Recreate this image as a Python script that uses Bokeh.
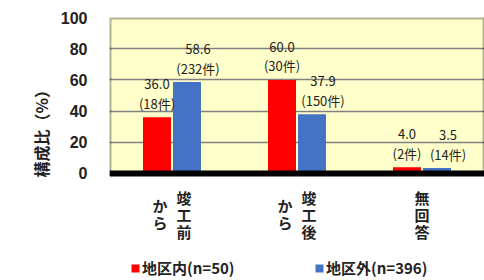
import numpy as np
from bokeh.plotting import figure
from bokeh.models import (ColumnDataSource, Range1d, FixedTicker, LabelSet, Title,
                          Legend, LegendItem, Span, BoxAnnotation)
from bokeh.transform import dodge
from bokeh.core.properties import value
from bokeh.embed import file_html
from bokeh.resources import INLINE

# ---- data ----
categories = ["竣工前から", "竣工後から", "無回答"]
category_columns = [["竣工前", "から"], ["竣工後", "から"], ["無回答"]]  # vertical writing, right to left
series_names = ["地区内(n=50)", "地区外(n=396)"]
inside_pct = [36.0, 60.0, 4.0]
inside_cnt = [18, 30, 2]
outside_pct = [58.6, 37.9, 3.5]
outside_cnt = [232, 150, 14]
y_ticks = [0, 20, 40, 60, 80, 100]
y_label = "構成比（%）"

RED = "#FF0000"
BLUE = "#4472C4"
TXT = "#222222"
JP = "Noto Sans CJK JP"

xs = [i + 0.5 for i in range(len(categories))]
src = ColumnDataSource(dict(
    x=xs,
    inside=inside_pct, outside=outside_pct,
    inside_val=[f"{v:.1f}" for v in inside_pct],
    outside_val=[f"{v:.1f}" for v in outside_pct],
    inside_cnt=[f"({c}件)" for c in inside_cnt],
    outside_cnt=[f"({c}件)" for c in outside_cnt],
))

YMAX = y_ticks[-1]
# frame reaches down to the canvas bottom so that the category labels and legend fit inside it
p = figure(width=484, height=280, x_range=Range1d(0, len(categories)), y_range=Range1d(-68.6, YMAX),
           output_backend="svg", toolbar_location=None, x_axis_location=None,
           min_border_left=109, min_border_right=0, min_border_top=17, min_border_bottom=0,
           background_fill_color="white", border_fill_color="white")
p.outline_line_color = None

# plot box
p.add_layout(BoxAnnotation(left=0, right=len(categories), bottom=0, top=YMAX,
                           fill_color="#FFFFCC", fill_alpha=1, line_color=None, level="image"))

# axes / grid
p.yaxis.ticker = FixedTicker(ticks=y_ticks)
p.yaxis.axis_line_color = None
p.yaxis.major_tick_line_color = None
p.yaxis.minor_tick_line_color = None
p.yaxis.major_tick_out = 0
p.yaxis.major_tick_in = 0
p.yaxis.major_label_standoff = 22
p.yaxis.major_label_text_font = "Liberation Sans"
p.yaxis.major_label_text_font_style = "bold"
p.yaxis.major_label_text_font_size = "16px"
p.yaxis.major_label_text_color = TXT
p.yaxis.axis_label_standoff = 8
p.xgrid.grid_line_color = None
p.ygrid.ticker = FixedTicker(ticks=y_ticks)
p.ygrid.grid_line_color = "#808080"
p.ygrid.grid_line_width = 1.5

OFF = 0.12
BW = 0.224
r1 = p.vbar(x=dodge("x", -OFF), top="inside", width=BW, source=src,
            fill_color=RED, line_color=None)
r2 = p.vbar(x=dodge("x", OFF), top="outside", width=BW, source=src,
            fill_color=BLUE, line_color=None)

# box border on top
p.add_layout(BoxAnnotation(left=0, right=len(categories), bottom=0, top=YMAX,
                           fill_alpha=0, line_color="black", line_width=4, level="annotation"))
p.add_layout(Span(location=0, dimension="width", line_color="black", line_width=6))

# value labels
for col, cnt, dx, xo in (("inside", "inside_cnt", -OFF, 0), ("outside", "outside_cnt", OFF, 11)):
    for field, yo in ((col + "_val", 33), (cnt, 14)):
        p.add_layout(LabelSet(x=dodge("x", dx), y=col, text=field, source=src,
                              x_offset=xo, y_offset=yo, text_align="center",
                              text_baseline="middle", text_font=value(JP),
                              text_font_size="13px", text_color=TXT))

# category labels (vertical Japanese text)
cx, cy, cdx, cdy, cch = [], [], [], [], []
for i, cols in enumerate(category_columns):
    n = len(cols)
    for j, col in enumerate(cols):
        dx = (n - 1) / 2 * 24 - j * 24
        for k, ch in enumerate(col):
            cx.append(xs[i])
            cy.append(0)
            cdx.append(dx)
            cdy.append(-(41 + (k - (len(col) - 1) / 2) * 17))
            cch.append(ch)
csrc = ColumnDataSource(dict(x=cx, y=cy, dx=cdx, dy=cdy, ch=cch))
p.add_layout(LabelSet(x="x", y="y", x_offset="dx", y_offset="dy", text="ch", source=csrc,
                      text_align="center", text_baseline="middle", text_font=value(JP),
                      text_font_style="bold", text_font_size="15px", text_color=TXT))

# y axis title (reading bottom to top)
p.add_layout(Title(text=y_label, align="left", offset=103, standoff=10,
                   text_font=JP, text_font_style="bold", text_font_size="16px",
                   text_color=TXT), "left")

# legends
for r, name, loc in ((r1, series_names[0], (21, 2)), (r2, series_names[1], (205, 2))):
    lg = Legend(items=[LegendItem(label=value(name), renderers=[r])], location=loc,
                orientation="horizontal", border_line_color=None, background_fill_alpha=0,
                padding=0, margin=0, glyph_width=10, glyph_height=10, label_standoff=2,
                label_height=16, label_text_font=JP, label_text_font_style="bold",
                label_text_font_size="15px", label_text_color=TXT)
    p.add_layout(lg)

open("out.html", "w").write(file_html(p, INLINE))
